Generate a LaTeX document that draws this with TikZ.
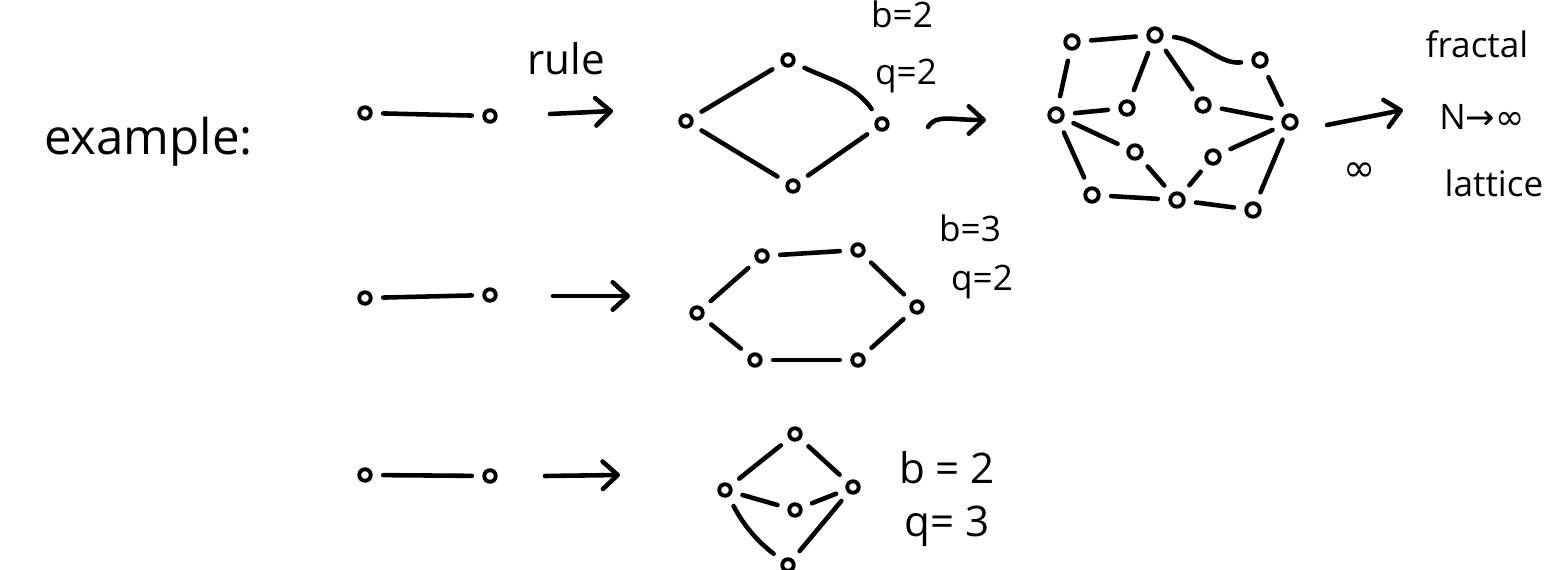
\documentclass[tikz,border=0pt]{standalone}
\usepackage{fontspec}
\setmainfont{Open Sans}
\newfontfamily\symfont{DejaVu Sans}
\usetikzlibrary{arrows.meta}
\tikzset{
  site/.style={circle,draw,line width=2.2pt,fill=white,minimum size=2.3mm,inner sep=0},
  bigsite/.style={site,minimum size=2.7mm},
  bond/.style={line width=2.6pt,line cap=round,shorten >=6pt,shorten <=6pt},
  arrow/.style={-{Straight Barb[length=3mm,width=5.5mm,round]},line width=2.6pt,line cap=round},
  lab/.style={font=\fontsize{20}{24}\selectfont,anchor=base},
  biglab/.style={font=\fontsize{24}{28}\selectfont,anchor=base},
}
\begin{document}
\begin{tikzpicture}[x=0.02cm,y=-0.02cm]
  \useasboundingbox (0,0) rectangle (1549,570);
  \node[font=\fontsize{28}{32}\selectfont,anchor=base west] (title) at (38,155) {example:};
  % the rule: one bond becomes a small network
  \foreach \r/\ya/\yb in {1/113/116,2/298/295,3/475/476} {
    \node[site] (p\r a) at (365,\ya) {};
    \node[site] (p\r b) at (490,\yb) {};
    \draw[bond] (p\r a) -- (p\r b);
  }
  \coordinate (a1s) at (550,114); \coordinate (a1e) at (613,111);
  \coordinate (a2s) at (553,296); \coordinate (a2e) at (630,296);
  \coordinate (a3s) at (545,476); \coordinate (a3e) at (620,475);
  \foreach \r in {1,2,3} { \draw[arrow] (a\r s) -- (a\r e); }
  \node[biglab] (rule) at (566,75) {rule};
  % b=2, q=2
  \node[site] (dl) at (686,121) {};
  \node[site] (dt) at (788,60) {};
  \node[site] (dr) at (882,124) {};
  \node[site] (db) at (793,186) {};
  \draw[bond] (dl) -- (dt);
  \draw[bond] (dt) .. controls (830,80) and (855,85) .. (dr);
  \draw[bond] (dl) -- (db);
  \draw[bond] (db) -- (dr);
  \node[lab] (db2) at (902,28) {b=2};
  \node[lab] (dq2) at (906,85) {q=2};
  % second generation
  \coordinate (s1s) at (928,127); \coordinate (s1e) at (986,120);
  \draw[arrow] (s1s) .. controls (936,114) and (950,120) .. (s1e);
  \node[bigsite] (nL) at (1056,115) {};
  \node[bigsite] (nTL) at (1072,42) {};
  \node[bigsite] (nT) at (1155,35) {};
  \node[bigsite] (nTR) at (1260,60) {};
  \node[bigsite] (nML) at (1127,108) {};
  \node[bigsite] (nMR) at (1203,105) {};
  \node[bigsite] (nR) at (1290,122) {};
  \node[bigsite] (nBLm) at (1135,152) {};
  \node[bigsite] (nBRm) at (1213,157) {};
  \node[bigsite] (nBL) at (1092,195) {};
  \node[bigsite] (nB) at (1177,200) {};
  \node[bigsite] (nBR) at (1253,210) {};
  \foreach \a/\b in {nL/nTL,nTL/nT,nL/nML,nML/nT,nT/nMR,nMR/nR,nTR/nR,
                     nL/nBL,nBL/nB,nL/nBLm,nBLm/nB,nB/nBRm,nBRm/nR,nB/nBR,nBR/nR} {
    \draw[bond] (\a) -- (\b);
  }
  \draw[bond] (nT) .. controls (1200,40) and (1220,65) .. (nTR);
  \coordinate (a4s) at (1327,125); \coordinate (a4e) at (1403,110);
  \draw[arrow] (a4s) -- (a4e);
  \node[font=\fontsize{22}{24}\selectfont\symfont] (inf) at (1360,172) {∞};
  \node[lab] (fractal) at (1477,58) {fractal};
  \node[lab] (Ninf) at (1482,130) {N{\symfont →∞}};
  \node[lab] (lattice) at (1494,197) {lattice};
  % b=3, q=2
  \node[site] (h1) at (697,313) {};
  \node[site] (h2) at (762,256) {};
  \node[site] (h3) at (858,250) {};
  \node[site] (h4) at (917,307) {};
  \node[site] (h5) at (858,360) {};
  \node[site] (h6) at (755,360) {};
  \foreach \a/\b in {h1/h2,h2/h3,h3/h4,h4/h5,h5/h6,h6/h1} { \draw[bond] (\a) -- (\b); }
  \node[lab] (hb3) at (970,242) {b=3};
  \node[lab] (hq2) at (982,291) {q=2};
  % b=2, q=3
  \node[site] (t1) at (725,490) {};
  \node[site] (t2) at (795,434) {};
  \node[site] (t3) at (853,487) {};
  \node[site] (t4) at (795,510) {};
  \node[site] (t5) at (788,565) {};
  \foreach \a/\b in {t1/t2,t2/t3,t1/t4,t4/t3,t5/t3} { \draw[bond] (\a) -- (\b); }
  \draw[bond] (t1) to[bend right=12] (t5);
  \node[biglab] (tb2) at (947,484) {b = 2};
  \node[biglab] (tq3) at (947,537) {q= 3};
\end{tikzpicture}
\end{document}
